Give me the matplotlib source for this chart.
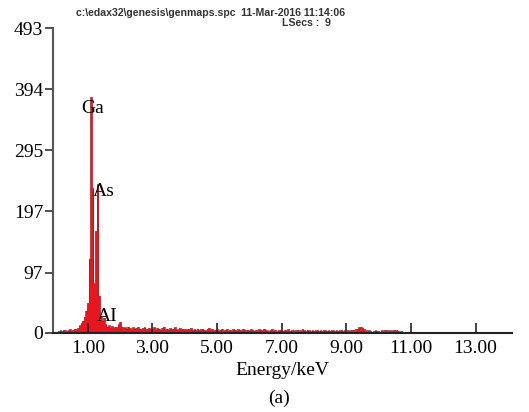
import numpy as np
import matplotlib.pyplot as plt

# EDS spectrum, 0.05 keV channels from 0 to 14 keV
step = 0.05
counts = [
    # 0.00 - 0.95
    0, 2, 3, 4, 3, 5, 4, 3, 5, 6, 4, 5, 7, 6, 8, 12, 16, 20, 26, 36,
    # 1.00 - 1.95
    48, 120, 381, 234, 80, 165, 240, 60, 28, 20, 24, 14, 10, 12, 9, 11, 8, 10, 9, 14,
    # 2.00 - 2.95
    18, 10, 8, 9, 7, 10, 8, 6, 9, 7, 8, 10, 7, 6, 8, 9, 6, 7, 8, 6,
    # 3.00 - 3.95
    7, 9, 6, 8, 7, 5, 8, 10, 6, 7, 5, 8, 6, 7, 9, 5, 6, 8, 6, 7,
    # 4.00 - 4.95
    6, 5, 7, 6, 8, 5, 6, 4, 7, 5, 6, 7, 5, 4, 6, 8, 5, 6, 4, 5,
    # 5.00 - 5.95
    6, 4, 5, 7, 4, 5, 6, 4, 5, 3, 6, 5, 4, 6, 5, 4, 7, 5, 4, 5,
    # 6.00 - 6.95
    4, 6, 5, 3, 5, 4, 6, 5, 4, 7, 5, 4, 3, 5, 6, 4, 5, 3, 4, 5,
    # 7.00 - 7.95
    4, 3, 5, 4, 6, 3, 4, 5, 3, 4, 5, 3, 4, 6, 4, 3, 5, 4, 3, 4,
    # 8.00 - 8.95
    3, 4, 5, 3, 4, 3, 5, 4, 3, 4, 3, 5, 4, 3, 4, 3, 4, 5, 3, 4,
    # 9.00 - 9.95
    3, 4, 3, 4, 5, 4, 6, 7, 9, 10, 8, 6, 4, 3, 4, 3, 2, 3, 4, 3,
    # 10.00 - 10.95
    3, 2, 4, 3, 5, 4, 3, 4, 3, 4, 5, 4, 3, 2, 3, 2, 1, 2, 1, 2,
    # 11.00 - 11.95
    1, 0, 1, 0, 1, 0, 0, 1, 0, 0, 0, 1, 0, 0, 0, 2, 0, 0, 0, 0,
    # 12.00 - 12.95
    0, 0, 0, 0, 0, 1, 0, 0, 0, 0, 0, 0, 0, 0, 0, 0, 0, 0, 0, 0,
    # 13.00 - 13.95
    0, 0, 0, 0, 0, 0, 0, 0, 0, 0, 0, 0, 0, 0, 0, 0, 0, 0, 0, 0,
]
energy = np.arange(len(counts)) * step

y_ticks = [0, 97, 197, 295, 394, 493]
x_ticks = [1, 3, 5, 7, 9, 11, 13]
x_labels = ["1.00", "3.00", "5.00", "7.00", "9.00", "11.00", "13.00"]

# element labels: (text, energy, counts)
peaks = [("Ga", 1.16, 363), ("As", 1.50, 229), ("AI", 1.59, 27)]

plt.rcParams["font.family"] = ["Liberation Serif", "DejaVu Serif"]

fig = plt.figure(figsize=(5.29, 4.12), dpi=100)
ax = fig.add_axes([0.100, 0.192, 0.868, 0.740])

ax.fill_between(energy, counts, step="mid", color="#e8161e", linewidth=0)
ax.plot(energy, counts, drawstyle="steps-mid", color="#a51218", linewidth=0.5)

ax.set_xlim(-0.08, 14.13)
ax.set_ylim(0, 493)

ax.spines["top"].set_visible(False)
ax.spines["right"].set_visible(False)
ax.spines["left"].set_color("#555555")
ax.spines["left"].set_linewidth(1.5)
ax.spines["bottom"].set_color("#222222")
ax.spines["bottom"].set_linewidth(1.5)

ax.set_yticks(y_ticks)
ax.set_yticklabels([str(v) for v in y_ticks])
ax.set_xticks(x_ticks)
ax.set_xticklabels(x_labels)
ax.tick_params(axis="y", direction="out", length=6, width=1.2, pad=1,
               labelsize=14, color="#333333")
ax.tick_params(axis="x", direction="in", length=7, width=1.2, pad=5,
               labelsize=14, color="#222222")

for name, e, c in peaks:
    ax.text(e, c, name, fontsize=14, ha="center", va="center")

ax.set_xlabel("Energy/keV", fontsize=14, labelpad=4)
fig.text(0.527, 0.034, "(a)", fontsize=14, ha="center", va="center")

fig.text(0.144, 0.968, r"c:\edax32\genesis\genmaps.spc  11-Mar-2016 11:14:06",
         fontsize=7.6, fontweight="bold", family="Liberation Sans",
         color="#333333", va="center")
fig.text(0.533, 0.945, "LSecs :  9", fontsize=7.6, fontweight="bold",
         family="Liberation Sans", color="#333333", va="center")

fig.savefig("out.png", dpi=100, facecolor="white")
